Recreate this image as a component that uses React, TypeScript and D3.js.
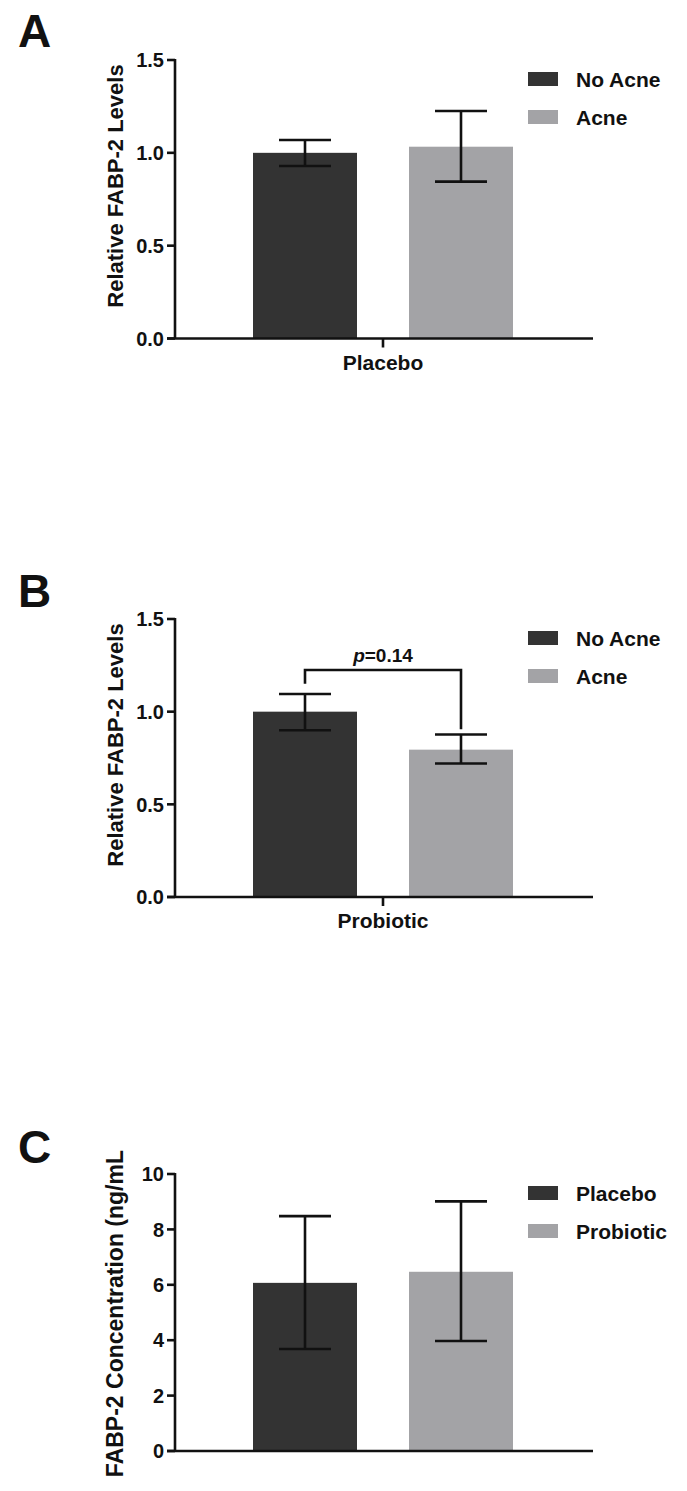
import React from "react";
import * as d3 from "d3";

// ---------- data ----------
const groupsAB = ["No Acne", "Acne"];
const groupsC = ["Placebo", "Probiotic"];

const meansA = [1.0, 1.033];
const lowerA = [0.929, 0.845];
const upperA = [1.069, 1.225];

const meansB = [1.0, 0.795];
const lowerB = [0.90, 0.72];
const upperB = [1.095, 0.877];
const bracketB = { top: 1.225, leftEnd: 1.15, rightEnd: 0.905, label: "0.14" };

const meansC = [6.07, 6.47];
const lowerC = [3.68, 3.97];
const upperC = [8.48, 9.01];

const ticksAB = [0, 0.5, 1.0, 1.5];
const ticksC = [0, 2, 4, 6, 8, 10];

const colors = ["#333333", "#a3a3a6"];
const FONT = "'Liberation Sans', Arial, Helvetica, sans-serif";

type PanelProps = {
  letter: string;
  letterY: number;
  top: number;
  bottom: number;
  domainMax: number;
  ticks: number[];
  tickFmt: (v: number) => string;
  groups: string[];
  means: number[];
  lower: number[];
  upper: number[];
  yLabel: string;
  yLabelY: number;
  yLabelAnchor: string;
  yLabelSize: number;
  xLabel?: string;
  bracket?: { top: number; leftEnd: number; rightEnd: number; label: string };
};

function Panel(p: PanelProps) {
  const axisX = 175;
  const axisEnd = 593;
  const y = d3.scaleLinear().domain([0, p.domainMax]).range([p.bottom, p.top]);
  const x = d3.scaleBand<string>().domain(p.groups).range([175, 591]).paddingInner(1 / 3).paddingOuter(0.5);
  const bw = x.bandwidth();
  const cx = (g: string) => (x(g) as number) + bw / 2;
  const capHalf = 26;
  const sw = 2.6;
  const center = (175 + 591) / 2;

  return (
    <g fontFamily={FONT} fontWeight="bold" fill="#111">
      <text x={18} y={p.letterY} fontSize={46}>{p.letter}</text>

      {/* bars */}
      {p.groups.map((g, i) => (
        <rect key={g} x={x(g)} y={y(p.means[i])} width={bw} height={p.bottom - y(p.means[i])} fill={colors[i]} />
      ))}

      {/* error bars */}
      {p.groups.map((g, i) => (
        <g key={"e" + g} stroke="#111" strokeWidth={sw} fill="none">
          <line x1={cx(g)} x2={cx(g)} y1={y(p.lower[i])} y2={y(p.upper[i])} />
          <line x1={cx(g) - capHalf} x2={cx(g) + capHalf} y1={y(p.upper[i])} y2={y(p.upper[i])} />
          <line x1={cx(g) - capHalf} x2={cx(g) + capHalf} y1={y(p.lower[i])} y2={y(p.lower[i])} />
        </g>
      ))}

      {/* axes */}
      <line x1={axisX} x2={axisX} y1={p.top - 1} y2={p.bottom} stroke="#111" strokeWidth={sw} />
      <line x1={axisX - 8} x2={axisEnd} y1={p.bottom} y2={p.bottom} stroke="#111" strokeWidth={sw} />
      {p.ticks.map((t) => (
        <g key={t}>
          <line x1={axisX - 8} x2={axisX} y1={y(t)} y2={y(t)} stroke="#111" strokeWidth={sw} />
          <text x={axisX - 11} y={y(t)} dy="0.36em" textAnchor="end" fontSize={20}>{p.tickFmt(t)}</text>
        </g>
      ))}
      {p.xLabel && (
        <g>
          <line x1={center} x2={center} y1={p.bottom} y2={p.bottom + 9} stroke="#111" strokeWidth={sw} />
          <text x={center} y={p.bottom + 31} textAnchor="middle" fontSize={21}>{p.xLabel}</text>
        </g>
      )}

      {/* y label */}
      <text transform={`translate(123,${p.yLabelY}) rotate(-90)`} textAnchor={p.yLabelAnchor} fontSize={p.yLabelSize}>
        {p.yLabel}
      </text>

      {/* legend */}
      {p.groups.map((g, i) => (
        <g key={"l" + g}>
          <rect x={528} y={p.top + 12 + i * 38} width={30} height={14} fill={colors[i]} />
          <text x={576} y={p.top + 27 + i * 38} fontSize={21}>{g}</text>
        </g>
      ))}

      {/* significance bracket */}
      {p.bracket && (
        <g>
          <path
            d={`M${cx(p.groups[0])},${y(p.bracket.leftEnd)}V${y(p.bracket.top)}H${cx(p.groups[1])}V${y(p.bracket.rightEnd)}`}
            stroke="#111" strokeWidth={sw} fill="none"
          />
          <text x={(cx(p.groups[0]) + cx(p.groups[1])) / 2} y={y(p.bracket.top) - 8} textAnchor="middle" fontSize={19}>
            <tspan fontStyle="italic">p</tspan>={p.bracket.label}
          </text>
        </g>
      )}
    </g>
  );
}

export default function App() {
  const f1 = d3.format(".1f");
  const f0 = d3.format("d");
  return (
    <svg width={687} height={1491} style={{ position: "absolute", left: 0, top: 0, background: "#fff" }}>
      <rect width={687} height={1491} fill="#fff" />
      <Panel
        letter="A" letterY={47} top={60} bottom={338.5} domainMax={1.5}
        ticks={ticksAB} tickFmt={f1} groups={groupsAB}
        means={meansA} lower={lowerA} upper={upperA}
        yLabel="Relative FABP-2 Levels" yLabelY={186} yLabelAnchor="middle" yLabelSize={22} xLabel="Placebo"
      />
      <Panel
        letter="B" letterY={607} top={619} bottom={897} domainMax={1.5}
        ticks={ticksAB} tickFmt={f1} groups={groupsAB}
        means={meansB} lower={lowerB} upper={upperB}
        yLabel="Relative FABP-2 Levels" yLabelY={745} yLabelAnchor="middle" yLabelSize={22} xLabel="Probiotic"
        bracket={bracketB}
      />
      <Panel
        letter="C" letterY={1163} top={1174} bottom={1451} domainMax={10}
        ticks={ticksC} tickFmt={f0} groups={groupsC}
        means={meansC} lower={lowerC} upper={upperC}
        yLabel="FABP-2 Concentration (ng/mL" yLabelY={1150} yLabelAnchor="end" yLabelSize={23}
      />
    </svg>
  );
}
